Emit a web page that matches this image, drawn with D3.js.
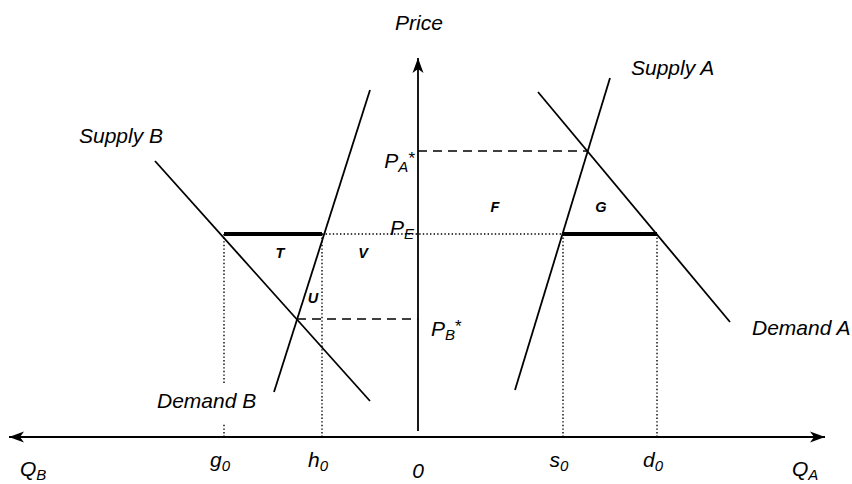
<!DOCTYPE html>
<html>
<head>
<meta charset="utf-8">
<script src="https://cdn.jsdelivr.net/npm/d3@7"></script>
<style>
  body { margin: 0; background: #fff; }
  svg { display: block; }
</style>
</head>
<body>
<svg id="chart" width="852" height="484"></svg>
<script>
// Curves, as [quantity, price] end points (B side has negative quantity)
const supplyA = [[9.7, 4.7], [19.2, 35.9]];
const demandA = [[12.0, 34.5], [31.2, 11.5]];
const supplyB = [[-4.8, 34.7], [-14.4, 4.5]];
const demandB = [[-26.3, 27.6], [-4.8, 3.6]];

// Prices
const priceA = 28.6;   // P_A*
const priceE = 20.3;   // P_E
const priceB = 11.8;   // P_B*
const eqQtyA = 17.0;
const eqQtyB = -12.1;

// Quantity ticks
const tickNames = ['g', 'h', '0', 's', 'd'];
const tickSubs = ['0', '0', '', '0', '0'];
const tickValues = [-19.4, -9.6, 0, 14.5, 23.9];

// Curve labels
const curveNames = ['Supply A', 'Demand A', 'Supply B', 'Demand B'];
const curveLabelAt = [[21.3, 36.2], [33.4, 10.2], [-33.9, 29.4], [-26.1, 2.9]];

// Area labels
const areaNames = ['T', 'V', 'U', 'F', 'G'];
const areaAt = [[-13.8, 17.9], [-5.5, 17.9], [-10.5, 13.4], [7.7, 22.5], [18.3, 22.5]];

const svg = d3.select('#chart');
const font = "'Liberation Sans', Arial, Helvetica, sans-serif";

const x = d3.scaleLinear().domain([-41, 40.8]).range([8, 826]);
const y = d3.scaleLinear().domain([0, 38]).range([437, 57]);

// arrow marker
svg.append('defs').append('marker')
  .attr('id', 'arrow')
  .attr('viewBox', '-16 -6 18 12')
  .attr('refX', 0).attr('refY', 0)
  .attr('markerWidth', 18).attr('markerHeight', 12)
  .attr('markerUnits', 'userSpaceOnUse')
  .attr('orient', 'auto-start-reverse')
  .append('path')
  .attr('d', 'M0,0 L-15,-5.5 L-11,0 L-15,5.5 Z')
  .attr('fill', '#000');

const line = d3.line().x(d => x(d[0])).y(d => y(d[1]));

// dotted guides
const dotted = svg.append('g')
  .attr('stroke', '#000').attr('stroke-width', 1.4)
  .attr('stroke-dasharray', '1.4,2.2').attr('fill', 'none');

dotted.append('path').attr('d', line([[tickValues[1], priceE], [tickValues[3], priceE]]));
tickValues.forEach((v, i) => {
  if (v === 0) return;
  dotted.append('path').attr('d', line([[v, priceE], [v, 0]]));
});

// dashed price lines
const dashed = svg.append('g')
  .attr('stroke', '#000').attr('stroke-width', 1.5)
  .attr('stroke-dasharray', '9,6').attr('fill', 'none');
dashed.append('path').attr('d', line([[0, priceA], [eqQtyA, priceA]]));
dashed.append('path').attr('d', line([[eqQtyB, priceB], [0, priceB]]));

// thick trade segments
svg.append('path').attr('d', line([[tickValues[0], priceE], [tickValues[1], priceE]]))
  .attr('stroke', '#000').attr('stroke-width', 4).attr('fill', 'none');
svg.append('path').attr('d', line([[tickValues[3], priceE], [tickValues[4], priceE]]))
  .attr('stroke', '#000').attr('stroke-width', 4).attr('fill', 'none');

// curves
[supplyA, demandA, supplyB, demandB].forEach(c => {
  svg.append('path').attr('d', line(c))
    .attr('stroke', '#000').attr('stroke-width', 1.8).attr('fill', 'none');
});

// axes
svg.append('path').attr('d', line([[-40.9, 0], [40.7, 0]]))
  .attr('stroke', '#000').attr('stroke-width', 1.8)
  .attr('marker-start', 'url(#arrow)').attr('marker-end', 'url(#arrow)');
svg.append('path').attr('d', line([[0, 0.6], [0, 37.9]]))
  .attr('stroke', '#000').attr('stroke-width', 1.8)
  .attr('marker-end', 'url(#arrow)');

// curve labels
curveNames.forEach((n, i) => {
  const g = svg.append('g');
  const t = g.append('text')
    .attr('x', x(curveLabelAt[i][0])).attr('y', y(curveLabelAt[i][1]))
    .attr('font-family', font).attr('font-size', 21).attr('font-style', 'italic')
    .text(n);
  if (n === 'Demand B') {
    const bb = t.node().getBBox();
    g.insert('rect', 'text')
      .attr('x', bb.x - 4).attr('y', bb.y - 6)
      .attr('width', bb.width + 8).attr('height', bb.height + 18)
      .attr('fill', '#fff');
  }
});

// area labels
areaNames.forEach((n, i) => {
  svg.append('text')
    .attr('x', x(areaAt[i][0])).attr('y', y(areaAt[i][1]))
    .attr('text-anchor', 'middle')
    .attr('font-family', font).attr('font-size', 14.5)
    .attr('font-style', 'italic').attr('font-weight', 'bold')
    .text(n);
});

// helper for P with subscript
function subLabel(px, py, main, sub, star, anchor) {
  const t = svg.append('text')
    .attr('x', px).attr('y', py)
    .attr('text-anchor', anchor)
    .attr('font-family', font).attr('font-size', 21).attr('font-style', 'italic');
  t.append('tspan').text(main);
  if (sub) t.append('tspan').attr('font-size', 15).attr('dy', 4).text(sub);
  if (star) t.append('tspan').attr('font-size', 17).attr('dy', -8).attr('font-style', 'normal').text(star);
  return t;
}

// price labels
subLabel(x(0) - 3, y(priceA) + 17, 'P', 'A', '*', 'end');
subLabel(x(0) - 4, y(priceE) + 1, 'P', 'E', '', 'end');
subLabel(x(0) + 13, y(priceB) + 17, 'P', 'B', '*', 'start');

// Price axis title
svg.append('text')
  .attr('x', x(0) + 1).attr('y', 30)
  .attr('text-anchor', 'middle')
  .attr('font-family', font).attr('font-size', 21).attr('font-style', 'italic')
  .text('Price');

// quantity tick labels
tickNames.forEach((n, i) => {
  const base = tickValues[i] === 0 ? 478 : 467;
  subLabel(x(tickValues[i]) - (tickSubs[i] ? 4 : 0), base, n, tickSubs[i], '', 'middle');
});

// quantity axis end labels
subLabel(x(-39.8), 476, 'Q', 'B', '', 'start');
subLabel(x(37.4), 476, 'Q', 'A', '', 'start');
</script>
</body>
</html>
